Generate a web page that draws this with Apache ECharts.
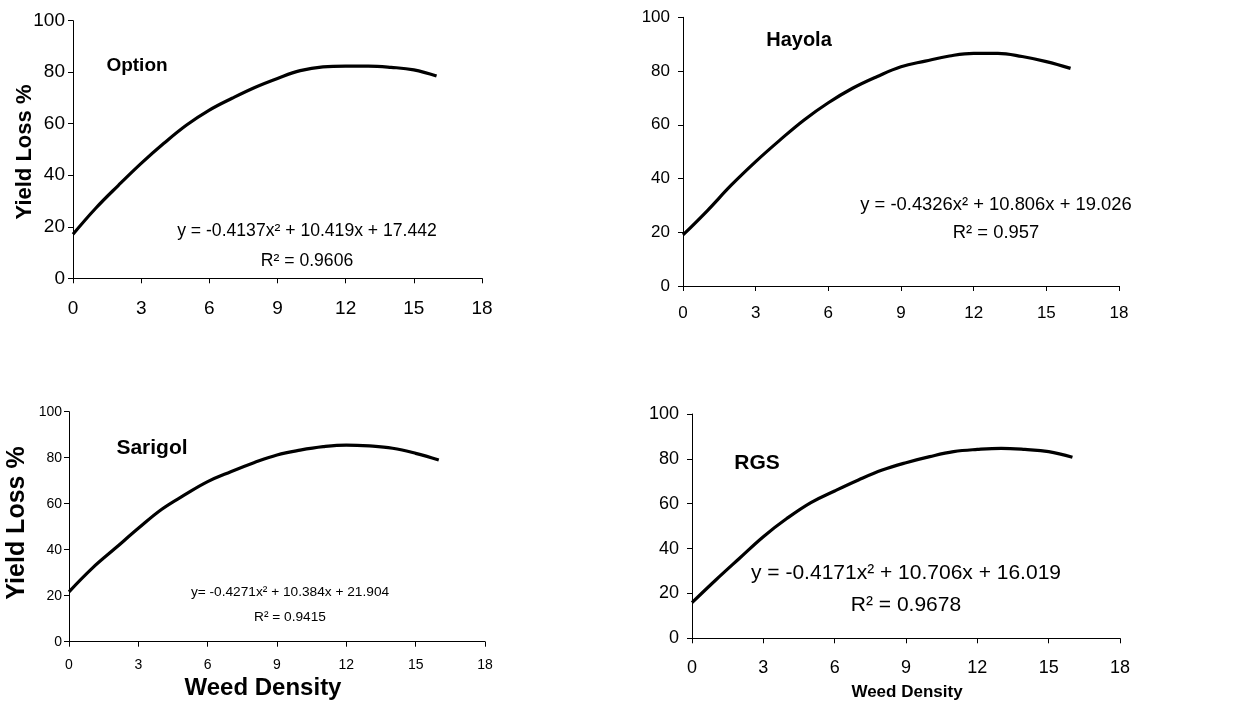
<!DOCTYPE html>
<html><head><meta charset="utf-8">
<script src="https://cdn.jsdelivr.net/npm/echarts@6/dist/echarts.min.js"></script>
<style>html,body{margin:0;padding:0;background:#fff}#c{width:1242px;height:706px}</style>
</head><body><div id="c"></div>
<script>
const density = [0,1,2,3,4,5,6,7,8,9,10,11,12,13,14,15,16];
const optionLoss  = [17.1,27.2,36.1,44.6,52.4,59.5,65.3,69.9,74.1,77.6,80.6,82.1,82.4,82.4,81.9,80.9,78.5];
const hayolaLoss  = [19.0,28.0,37.6,46.3,54.3,61.8,68.2,73.6,77.9,81.6,83.7,85.6,86.6,86.6,85.4,83.5,81.0];
const sarigolLoss = [21.7,31.9,40.6,49.3,57.5,63.8,69.6,73.9,77.8,81.2,83.3,84.8,85.5,85.1,84.1,81.9,79.0];
const rgsLoss     = [15.9,26.0,35.7,45.3,53.5,60.5,65.7,70.6,75.0,78.3,81.0,83.2,84.2,84.7,84.2,83.2,80.7];
const cultivars = ['Option','Hayola','Sarigol','RGS'];
const equations = ['y = -0.4137x² + 10.419x + 17.442','y = -0.4326x² + 10.806x + 19.026','y= -0.4271x² + 10.384x + 21.904','y = -0.4171x² + 10.706x + 16.019'];
const rSquared = ['R² = 0.9606','R² = 0.957','R² = 0.9415','R² = 0.9678'];
const yTitle = 'Yield Loss %';
const xTitle = 'Weed Density';

const FF = '"Liberation Sans", Arial, sans-serif';
const grids = [
  {left:73, top:20.7, width:409, height:257.6},
  {left:683, top:17.3, width:436, height:268.7},
  {left:69, top:411.7, width:416, height:230},
  {left:692, top:414, width:428, height:224.3}
];
const tickFont = [19,17,14,18];
const xMargin = [21,19,16,21];
const yMargin = [8,13,7,13];
const series = [optionLoss, hayolaLoss, sarigolLoss, rgsLoss];

const xAxes = grids.map((g,i)=>({
  gridIndex:i, type:'value', min:0, max:18, interval:3,
  axisLine:{show:true,onZero:false,lineStyle:{color:'#000',width:1}},
  axisTick:{show:true,length:5,lineStyle:{color:'#000'}},
  splitLine:{show:false},
  axisLabel:{color:'#000',fontSize:tickFont[i],fontFamily:FF,margin:xMargin[i],showMaxLabel:true,showMinLabel:true}
}));
const yAxes = grids.map((g,i)=>({
  gridIndex:i, type:'value', min:0, max:100, interval:20,
  axisLine:{show:true,lineStyle:{color:'#000',width:1}},
  axisTick:{show:true,length:5,lineStyle:{color:'#000'}},
  splitLine:{show:false},
  axisLabel:{color:'#000',fontSize:tickFont[i],fontFamily:FF,margin:yMargin[i]}
}));
const ser = series.map((arr,i)=>({
  type:'line', xAxisIndex:i, yAxisIndex:i,
  data: density.map((x,k)=>[x,arr[k]]),
  smooth:0.4, symbol:'none', lineStyle:{color:'#000',width:3.2}, silent:true
}));

function txt(x,y,t,size,bold,rot){
  return {type:'text', x:x, y:y, rotation:rot||0, silent:true,
    style:{text:t, fill:'#000', font:(bold?'bold ':'')+size+'px '+FF, textAlign:'center', textVerticalAlign:'middle'}};
}
const graphics = [
  txt(137,66,cultivars[0],19,true),
  txt(799,40,cultivars[1],20,true),
  txt(152,448,cultivars[2],21,true),
  txt(757,463,cultivars[3],21,true),
  txt(307,231,equations[0],17.6,false),
  txt(307,261,rSquared[0],17.6,false),
  txt(996,205,equations[1],18.4,false),
  txt(996,233,rSquared[1],18.4,false),
  txt(290,592,equations[2],13.7,false),
  txt(290,617,rSquared[2],13.7,false),
  txt(906,573,equations[3],21,false),
  txt(906,605,rSquared[3],21,false),
  txt(25,152,yTitle,22,true,Math.PI/2),
  txt(17,523,yTitle,25,true,Math.PI/2),
  txt(263,688,xTitle,24,true),
  txt(907,692,xTitle,17,true)
];

const chart = echarts.init(document.getElementById('c'), null, {renderer:'canvas'});
chart.setOption({
  animation:false, backgroundColor:'#fff',
  grid: grids.map(g=>Object.assign({containLabel:false},g)),
  xAxis:xAxes, yAxis:yAxes, series:ser, graphic:graphics
});
</script></body></html>
